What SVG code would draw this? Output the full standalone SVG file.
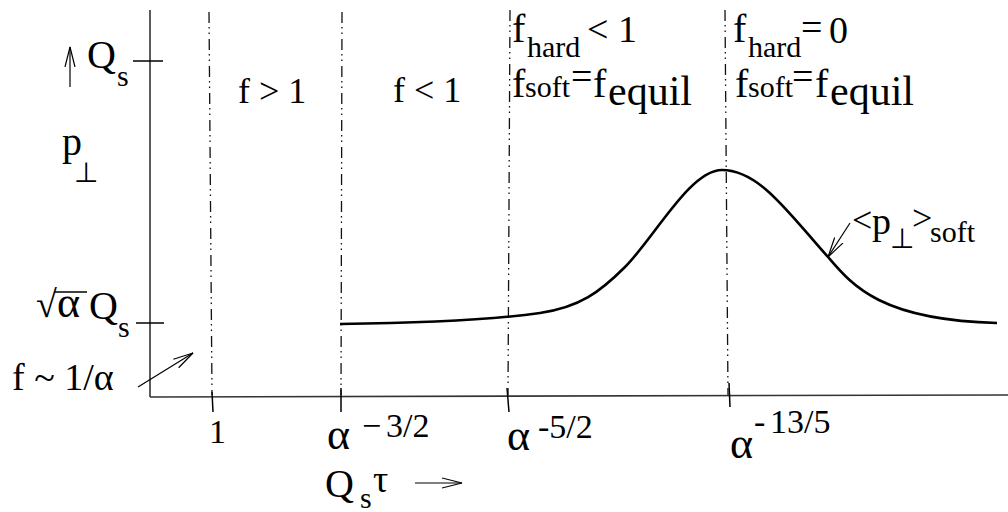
<svg xmlns="http://www.w3.org/2000/svg" width="1008" height="512" viewBox="0 0 1008 512">
<style>
.m{font-size:38px}
.sub{font-size:30px}
.big{font-size:42px}
.ex{font-size:34px}
.perp{font-family:'DejaVu Sans',sans-serif;font-size:28px}
.ax{stroke:#333;stroke-width:1.6;fill:none}
.tk{stroke:#000;stroke-width:1.5;fill:none}
.dd{stroke:#111;stroke-width:1.3;fill:none;stroke-dasharray:11 4 1.5 4 1.5 5}
.ar{stroke:#000;stroke-width:1.2;fill:none;marker-end:url(#h)}
</style>
<defs>
<marker id="h" markerUnits="userSpaceOnUse" markerWidth="24" markerHeight="14" refX="20" refY="6" orient="auto">
<path d="M0,1 L20,6 L0,11" fill="none" stroke="#000" stroke-width="1.2"/>
</marker>
</defs>
<rect width="1008" height="512" fill="#fff"/>
<g id="axes">
<line class="ax" x1="150" y1="10" x2="150" y2="397"/>
<line class="ax" x1="150" y1="397" x2="1008" y2="395"/>
<line class="tk" x1="133" y1="61" x2="163" y2="61"/>
<line class="tk" x1="136" y1="323" x2="164" y2="323"/>
<line class="tk" x1="212" y1="392" x2="213" y2="412"/>
<line class="tk" x1="341" y1="388" x2="341" y2="412"/>
<line class="tk" x1="507" y1="388" x2="509" y2="412"/>
<line class="tk" x1="729" y1="383" x2="730" y2="407"/>
</g>
<g id="boundaries">
<line class="dd" x1="209" y1="12" x2="212" y2="395"/>
<line class="dd" x1="342" y1="12" x2="341" y2="395"/>
<line class="dd" x1="510" y1="10" x2="508" y2="395"/>
<line class="dd" x1="725" y1="10" x2="728" y2="395"/>
</g>
<g id="curve">
<path d="M340,324 C420,323 490,320 540,313 C580,307 600,292 625,267 C655,237 690,170 722,170 C760,170 790,215 828,257 C852,285 880,320 997,323" fill="none" stroke="#000" stroke-width="2.6"/>
</g>
<g id="connectors">
<line class="ar" x1="70" y1="87" x2="70" y2="47"/>
<line class="ar" x1="138" y1="387" x2="193" y2="353"/>
<line class="ar" x1="850" y1="223" x2="828" y2="257"/>
<line class="ar" x1="415" y1="483" x2="462" y2="483"/>
</g>
<g font-family="Times New Roman, Liberation Serif, Tinos, Noto Serif, serif" fill="#000">
<g id="y-labels">
<text x="87" y="68" font-size="40">Q</text><text x="117" y="86" class="sub">s</text>
<text x="62" y="155" font-size="40">p</text><text x="74" y="182" class="perp">⊥</text>
<text x="36" y="317" class="m">√</text><line x1="55" y1="292" x2="87" y2="292" stroke="#000" stroke-width="1.5"/>
<text x="57" y="317" font-size="44">α</text>
<text x="89" y="319" font-size="40">Q</text><text x="118" y="337" class="sub">s</text>
<text x="12" y="390" class="m">f ~ 1/α</text>
</g>
<g id="region-labels">
<text x="238" y="103" font-size="36">f &gt; 1</text>
<text x="393" y="102" font-size="36">f &lt; 1</text>
<text x="512" y="42" font-size="40">f</text><text x="527" y="57" class="sub">hard</text><text x="587" y="42" class="m">&lt; 1</text>
<text x="512" y="97" font-size="40">f</text><text x="525" y="97" class="sub">soft</text><text x="571" y="89" class="m">=</text>
<text x="593" y="97" font-size="40">f</text><text x="608" y="105" class="big">equil</text>
<text x="733" y="42" font-size="40">f</text><text x="748" y="57" class="sub">hard</text><text x="801" y="40" class="m">=</text><text x="829" y="43" class="m">0</text>
<text x="735" y="97" font-size="40">f</text><text x="748" y="97" class="sub">soft</text><text x="792" y="89" class="m">=</text>
<text x="815" y="97" font-size="40">f</text><text x="830" y="105" class="big">equil</text>
</g>
<g id="x-labels">
<text x="209" y="443" class="ex">1</text>
<text x="327" y="449" font-size="44">α</text><text x="362" y="437" class="ex">−</text><text x="386" y="437" class="ex">3/2</text>
<text x="507" y="450" font-size="44">α</text><text x="538" y="438" class="ex">-5/2</text>
<text x="730" y="458" font-size="44">α</text><text x="754" y="433" class="ex">-</text><text x="770" y="433" class="ex">13/5</text>
<text x="325" y="497" font-size="40">Q</text><text x="360" y="508" class="sub">s</text><text x="373" y="492" class="m">τ</text>
</g>
<g id="curve-label">
<text x="852" y="232" font-size="36">&lt;</text><text x="872" y="234" font-size="38">p</text><text x="890" y="248" class="perp">⊥</text><text x="912" y="230" font-size="36">&gt;</text><text x="930" y="242" class="sub">soft</text>
</g>
</g>
</svg>
